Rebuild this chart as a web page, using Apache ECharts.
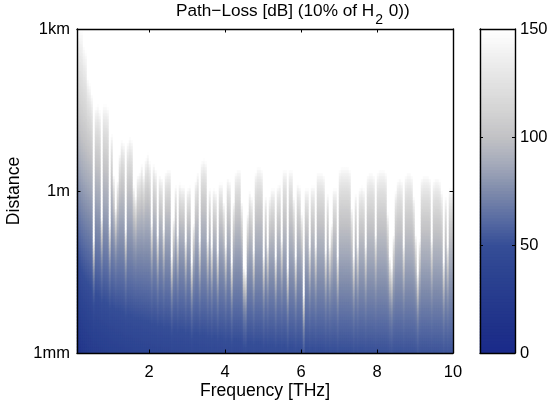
<!DOCTYPE html>
<html><head><meta charset="utf-8">
<style>html,body{margin:0;padding:0;background:#fff}#c{width:550px;height:407px}</style>
<script src="https://cdn.jsdelivr.net/npm/echarts@6/dist/echarts.min.js"></script>
</head><body><div id="c"></div>
<script>
// Log10 of the distance in metres at which each frequency column reaches 150 dB (white),
// read from the picture column by column, low to high frequency.
const reachLog10Distance = [
3.0,3.0,3.0,2.7,2.6,2.1,2.0,1.8,-0.9,1.55,1.6,1.5,-0.5,1.6,1.6,1.55,-0.6,1.05,0.3,-0.3,
0.2,0.7,0.95,0.9,-0.7,0.9,1.0,0.95,0.1,-0.1,0.3,0.35,0.5,0.3,0.6,0.7,0.55,-0.6,0.5,0.4,
-0.8,0.3,0.25,-0.7,0.35,0.4,0.4,-1.2,-0.5,0.1,-0.8,0.15,0.1,0.1,-0.9,0.05,0.1,-1.3,-0.6,0.2,
0.35,-0.9,0.55,0.6,0.55,-0.9,0.05,-1.0,0.05,0.0,-1.1,0.15,0.15,-0.2,-1.0,0.25,0.2,-1.3,-0.2,0.35,
0.4,0.4,-0.2,-1.4,-1.5,-0.4,0.0,-0.1,-1.1,0.35,0.45,0.45,0.4,-1.2,-0.1,-1.0,-0.1,0.05,0.05,-1.2,
0.1,0.15,-0.9,0.4,0.4,-1.4,0.4,0.4,-0.1,-1.2,0.15,0.1,-0.4,-1.9,0.05,0.05,-1.0,0.1,0.1,-1.0,
0.35,0.35,0.35,0.3,-1.1,-0.05,-1.0,-0.6,0.05,0.05,-1.2,0.4,0.45,0.45,0.45,0.45,0.4,-0.3,-1.2,-0.05,
-1.0,0.05,0.1,0.05,-1.0,0.3,0.35,0.35,0.3,-0.8,0.35,0.4,0.4,0.4,0.35,-0.4,-1.2,-1.4,-0.8,0.0,
0.2,0.25,0.2,-1.0,0.3,0.35,0.35,0.3,-0.1,-0.8,-1.5,-0.9,0.25,0.3,0.3,0.3,0.25,-0.9,0.2,0.25,
0.25,0.2,0.0,-1.3,-0.1,-1.0,0.05,0.05];
const xTicks = [2,4,6,8,10];
const yTickLabels = {'-3':'1mm','0':'1m','3':'1km'};
const titleParts = ['Path\u2212Loss [dB] (10% of H','2',' 0))'];
const xName = 'Frequency [THz]';
const yName = 'Distance';
const colorStops = ['#1a2a8a','#1f3189','#263b8d','#2c4391','#364e97','#5a6da3','#7f8bab','#a4aaba','#c2c2c5','#d4d4d4','#e2e2e2','#f0f0f0','#ffffff'];

const fMin=0.1,fMax=10,dRows=108,barLevels=108,C=3e8;
const nCols=reachLog10Distance.length;
const freqs=reachLog10Distance.map((_,i)=>fMin+(i+0.5)*(fMax-fMin)/nCols);
const rowLog=Array.from({length:dRows},(_,j)=>-3+(j+0.5)*6/dRows);
// Free-space spreading loss, plus an absorption term fixed by the column's read 150 dB reach.
const spread=(f,l)=>20*Math.log10(4*Math.PI*f*1e12/C)+20*l;
const cells=[];
freqs.forEach((f,i)=>{
  const top=reachLog10Distance[i];
  const a=Math.max(0,150-spread(f,top))/Math.pow(10,top);
  rowLog.forEach((l,j)=>{
    cells.push([i,j,Math.min(150,Math.max(0,spread(f,l)+a*Math.pow(10,l)))]);
  });
});
const barCats=Array.from({length:barLevels},(_,k)=>(k+0.5)*150/barLevels);
const barCells=barCats.map((v,k)=>[0,k,v]);

const txt={color:'#000',fontFamily:'Liberation Sans',fontSize:16.5,fontWeight:'normal'};
const nameTxt={...txt,fontSize:17.6};
const line={show:true,onZero:false,lineStyle:{color:'#000',width:1.4}};
const tick=(vals)=>({show:true,inside:true,length:3.5,lineStyle:{color:'#000',width:1},customValues:vals});
const hidden=(d,g)=>({type:'category',gridIndex:g,data:d,show:false});
const chart=echarts.init(document.getElementById('c'),null,{renderer:'canvas'});
chart.setOption({
  animation:false,backgroundColor:'#fff',
  title:{left:171,top:-3,
    text:'{a|'+titleParts[0]+'}{s|'+titleParts[1]+'}{a|'+titleParts[2]+'}',
    textStyle:{fontWeight:'normal',rich:{a:{fontFamily:'Liberation Sans',fontSize:17.2,fontWeight:'normal',color:'#000',lineHeight:18},
                     s:{fontFamily:'Liberation Sans',fontSize:14,fontWeight:'normal',color:'#000',lineHeight:16,padding:[18,1,0,1]}}}},
  grid:[{left:77,top:29,width:376,height:324,outerBoundsMode:'none'},{left:480,top:29,width:35,height:324,outerBoundsMode:'none'}],
  visualMap:{show:false,min:0,max:150,seriesIndex:[0,1],inRange:{color:colorStops}},
  xAxis:[
    hidden(freqs,0),
    {type:'value',gridIndex:0,position:'bottom',min:fMin,max:fMax,z:10,axisLine:line,axisTick:tick(xTicks),splitLine:{show:false},
     axisLabel:{...txt,margin:11,customValues:xTicks},name:xName,nameLocation:'middle',nameGap:29,nameMoveOverlap:false,nameTextStyle:nameTxt},
    {type:'value',gridIndex:0,position:'top',min:fMin,max:fMax,z:10,axisLine:line,axisTick:tick(xTicks),splitLine:{show:false},axisLabel:{show:false}},
    {type:'category',gridIndex:1,position:'bottom',data:[''],z:10,axisLine:line,axisTick:{show:false},axisLabel:{show:false}},
    {type:'category',gridIndex:1,position:'top',data:[''],z:10,axisLine:line,axisTick:{show:false},axisLabel:{show:false}}
  ],
  yAxis:[
    hidden(rowLog,0),
    {type:'value',gridIndex:0,position:'left',min:-3,max:3,interval:3,z:10,axisLine:line,axisTick:{show:true,inside:true,length:3.5,lineStyle:{color:'#000',width:1}},splitLine:{show:false},
     axisLabel:{...txt,margin:7,formatter:v=>yTickLabels[String(v)]},name:yName,nameLocation:'middle',nameGap:54,nameMoveOverlap:false,nameRotate:90,nameTextStyle:nameTxt},
    {type:'value',gridIndex:0,position:'right',min:-3,max:3,interval:3,z:10,axisLine:line,axisTick:{show:true,inside:true,length:3.5,lineStyle:{color:'#000',width:1}},splitLine:{show:false},axisLabel:{show:false}},
    hidden(barCats,1),
    {type:'value',gridIndex:1,position:'right',min:0,max:150,interval:50,z:10,axisLine:line,axisTick:{show:true,inside:true,length:3,lineStyle:{color:'#000',width:1}},splitLine:{show:false},axisLabel:{...txt,margin:5}},
    {type:'value',gridIndex:1,position:'left',min:0,max:150,interval:50,z:10,axisLine:line,axisTick:{show:true,inside:true,length:3,lineStyle:{color:'#000',width:1}},splitLine:{show:false},axisLabel:{show:false}}
  ],
  series:[
    {type:'heatmap',xAxisIndex:0,yAxisIndex:0,data:cells,progressive:0,itemStyle:{borderWidth:0},emphasis:{disabled:true}},
    {type:'heatmap',xAxisIndex:3,yAxisIndex:3,data:barCells,progressive:0,itemStyle:{borderWidth:0},emphasis:{disabled:true}}
  ]
});
</script></body></html>
